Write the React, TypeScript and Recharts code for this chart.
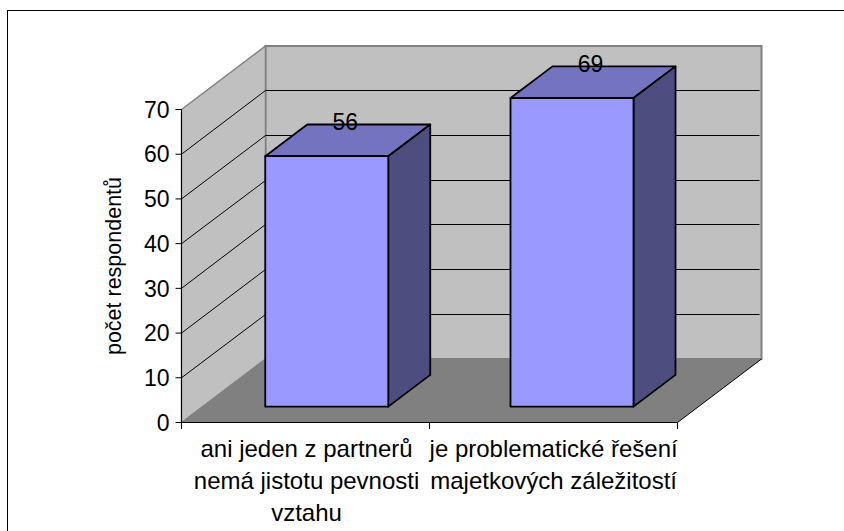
import React from 'react';
import {
  Bar,
  BarChart,
  LabelList,
  ReferenceArea,
  XAxis,
  YAxis,
} from 'recharts';

const categories = ['ani jeden z partnerů', 'je problematické řešení'];
const categoryLines = [
  ['ani jeden z partnerů', 'nemá jistotu pevnosti', 'vztahu'],
  ['je problematické řešení', 'majetkových záležitostí'],
];
const respondents = [56, 69];
const yTicks = [0, 10, 20, 30, 40, 50, 60, 70];
const gridValues = [10, 20, 30, 40, 50, 60];
const yLabel = 'počet respondentů';

const data = categories.map((name, i) => ({ name, value: respondents[i] }));

const FONT = '"Liberation Sans", Arial, sans-serif';
// depth of the fake 3D box
const WALL_DX = 84;
const WALL_DY = 63.5;
const BAR_DX = 42;
const BAR_DY = 31.7;
const BAR_SHIFT_X = 21;
const BAR_SHIFT_Y = 15.9;
// bars sit a little off the axis bands, the walls still span the full axis
const PAD_LEFT = 1.75;
const PAD_RIGHT = 3.75;

const Walls = ({ x: rawX, y, width: rawWidth, height }: any) => {
  const x = rawX - PAD_LEFT;
  const width = rawWidth + PAD_LEFT + PAD_RIGHT;
  const bottom = y + height;
  const right = x + width;
  const bx = x + WALL_DX;
  return (
    <g>
      <polygon
        points={`${bx},${y - WALL_DY} ${bx + width},${y - WALL_DY} ${bx + width},${bottom - WALL_DY} ${bx},${bottom - WALL_DY}`}
        fill="#C0C0C0"
        stroke="#808080"
        strokeWidth={2}
      />
      <polygon
        points={`${x},${y} ${bx},${y - WALL_DY} ${bx},${bottom - WALL_DY} ${x},${bottom}`}
        fill="#C0C0C0"
        stroke="#808080"
        strokeWidth={1.5}
      />
      <polygon
        points={`${x},${bottom} ${right},${bottom} ${bx + width},${bottom - WALL_DY} ${bx},${bottom - WALL_DY}`}
        fill="#808080"
      />
      <line x1={right} y1={bottom} x2={bx + width} y2={bottom - WALL_DY} stroke="#000" />
      {gridValues.map((v) => {
        const gy = y + height * (1 - v / yTicks[yTicks.length - 1]);
        const by = Math.floor(gy - WALL_DY) + 0.5;
        return (
          <path
            key={v}
            d={`M${x},${gy} L${bx},${by} L${bx + width - 2},${by}`}
            fill="none"
            stroke="#000"
            strokeWidth={1}
          />
        );
      })}
      {[x, x + width / 2, right].map((tx) => (
        <line key={tx} x1={tx} y1={bottom} x2={tx} y2={bottom + 6.5} stroke="#000" />
      ))}
    </g>
  );
};

const Bar3D = ({ x, y, width, height }: any) => {
  const left = x + BAR_SHIFT_X;
  const top = y - BAR_SHIFT_Y;
  const right = left + width;
  const bottom = top + height;
  return (
    <g stroke="#000" strokeWidth={1.8} strokeLinejoin="round">
      <polygon
        points={`${left},${top} ${right},${top} ${right + BAR_DX},${top - BAR_DY} ${left + BAR_DX},${top - BAR_DY}`}
        fill="#7373BF"
      />
      <polygon
        points={`${right},${top} ${right + BAR_DX},${top - BAR_DY} ${right + BAR_DX},${bottom - BAR_DY} ${right},${bottom}`}
        fill="#4D4D80"
      />
      <rect x={left} y={top} width={width} height={height} fill="#9999FF" />
    </g>
  );
};

const BarValue = ({ x, y, width, value }: any) => (
  <text
    x={x + width / 2 + BAR_SHIFT_X + 18.5}
    y={y - BAR_SHIFT_Y - BAR_DY + 5.5}
    textAnchor="middle"
    fontFamily={FONT}
    fontSize={23}
    fill="#000"
  >
    {value}
  </text>
);

const CategoryTick = ({ x, y, index }: any) => (
  <text textAnchor="middle" fontFamily={FONT} fontSize={24} fill="#000">
    {categoryLines[index].map((line, i) => (
      <tspan key={line} x={x + 0.7 + index * 1.8} y={y + 26 + i * 32}>
        {line}
      </tspan>
    ))}
  </text>
);

const AxisTitle = ({ viewBox }: any) => {
  const cx = 120.5;
  const cy = viewBox.y + viewBox.height / 2;
  return (
    <text
      x={cx}
      y={cy}
      transform={`rotate(-90 ${cx} ${cy})`}
      textAnchor="middle"
      fontFamily={FONT}
      fontSize={21.5}
      fill="#000"
    >
      {yLabel}
    </text>
  );
};

export default function App() {
  return (
    <div style={{ position: 'absolute', left: 0, top: 0, width: 844, height: 531, background: '#fff', overflow: 'hidden' }}>
      <div
        style={{
          position: 'absolute',
          left: 7,
          top: 10,
          width: 837,
          height: 521,
          boxSizing: 'border-box',
          borderLeft: '1px solid #000',
          borderTop: '1px solid #000',
        }}
      />
      <div style={{ position: 'absolute', left: 0, top: 0 }}>
        <BarChart
          width={844}
          height={531}
          data={data}
          margin={{ top: 109.5, right: 166.5, bottom: 0, left: 0 }}
        >
          <XAxis
            dataKey="name"
            height={108.5}
            interval={0}
            padding={{ left: PAD_LEFT, right: PAD_RIGHT }}
            tick={<CategoryTick />}
            tickLine={false}
            axisLine={{ stroke: '#000' }}
          />
          <YAxis
            width={181.5}
            domain={[0, 70]}
            ticks={yTicks}
            tickSize={6}
            tickMargin={6}
            interval={0}
            tick={{ fill: '#000', fontSize: 23, fontFamily: FONT }}
            tickLine={{ stroke: '#000' }}
            axisLine={{ stroke: '#000' }}
            label={<AxisTitle />}
          />
          <ReferenceArea y1={0} y2={70} ifOverflow="visible" shape={<Walls />} />
          <Bar dataKey="value" barSize={123} isAnimationActive={false} shape={<Bar3D />}>
            <LabelList dataKey="value" content={<BarValue />} />
          </Bar>
        </BarChart>
      </div>
    </div>
  );
}
